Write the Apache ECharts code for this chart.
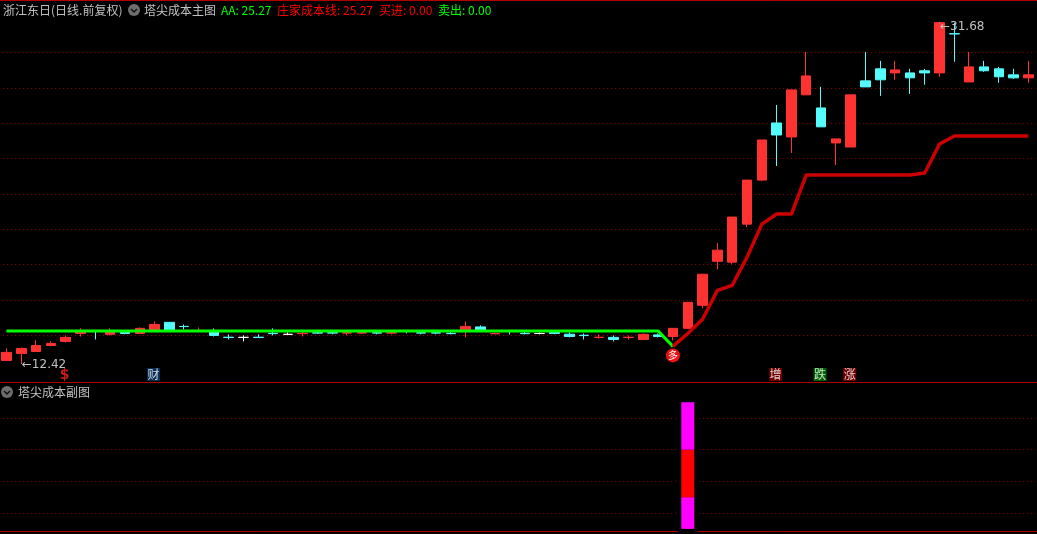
<!DOCTYPE html>
<html>
<head>
<meta charset="utf-8">
<style>
  html, body { margin: 0; padding: 0; background: #000; width: 1037px; height: 534px; overflow: hidden; }
  /* chart is a bit bigger than the window: the panels run past its left and bottom edges */
  #chart { width: 1038px; height: 546px; margin-left: -1px; }
</style>
<script src="https://cdn.jsdelivr.net/npm/echarts@6/dist/echarts.min.js"></script>
</head>
<body>
<div id="chart"></div>
<script>
var opens = [
  12.58,12.98,13.09,13.43,13.66,14.11,14.28,14.06,14.25,14.11,
  14.23,14.74,14.51,14.25,14.28,13.90,13.89,13.90,14.12,14.06,
  14.10,14.15,14.15,14.13,14.13,14.15,14.13,14.28,14.15,14.15,
  14.12,14.25,14.48,14.09,14.28,14.12,14.11,14.17,14.07,14.01,
  13.88,13.89,13.88,13.77,14.03,13.94,14.40,15.70,18.19,18.14,
  20.29,22.78,26.01,25.22,27.60,26.86,24.88,24.65,28.39,29.07,
  28.84,28.84,28.96,28.84,31.06,28.33,29.18,29.07,28.73,28.56
];
var closes = [
  13.04,13.26,13.43,13.55,13.89,14.23,14.25,14.23,14.11,14.40,
  14.62,14.28,14.50,14.28,14.00,13.88,13.89,13.88,14.10,14.06,
  14.12,14.13,14.13,14.15,14.15,14.13,14.15,14.26,14.13,14.13,
  14.10,14.51,14.28,14.11,14.26,14.10,14.11,14.11,13.94,13.99,
  13.90,13.77,13.90,14.06,13.94,14.40,15.87,17.46,18.82,20.69,
  22.78,25.05,25.33,27.88,28.67,25.79,25.11,27.60,28.05,28.45,
  29.01,28.56,28.84,31.68,31.04,29.18,28.96,28.62,28.56,28.73
];
var lows = [
  12.58,12.42,13.09,13.38,13.60,13.94,13.77,14.00,14.06,14.11,
  14.23,14.28,14.34,14.23,13.94,13.77,13.66,13.86,14.00,14.05,
  13.94,14.08,14.06,14.00,14.08,14.06,14.06,14.11,14.06,14.06,
  14.06,13.89,14.25,14.08,14.06,14.06,14.06,14.06,13.89,13.77,
  13.83,13.66,13.77,13.77,13.89,13.72,14.40,15.53,17.74,18.02,
  20.12,22.73,23.58,24.31,27.60,25.79,23.63,24.65,28.05,27.54,
  28.45,27.65,28.17,28.62,29.47,28.33,28.90,28.28,28.50,28.28
];
var highs = [
  13.26,13.32,13.72,13.66,14.00,14.40,14.28,14.40,14.28,14.45,
  14.79,14.74,14.62,14.45,14.40,14.06,14.00,14.06,14.40,14.17,
  14.28,14.28,14.28,14.28,14.28,14.28,14.28,14.30,14.28,14.28,
  14.28,14.79,14.57,14.17,14.28,14.23,14.17,14.20,14.17,14.11,
  14.06,14.00,14.00,14.11,14.11,14.40,15.87,17.46,19.21,20.69,
  22.78,25.05,27.03,27.88,30.03,28.05,25.11,27.60,30.03,29.52,
  29.52,29.07,29.07,31.68,31.68,30.03,29.52,29.18,29.07,29.52
];
// green AA line, index 0-45
var aaLine = [
  14.25,14.25,14.25,14.25,14.25,14.25,14.25,14.25,14.25,14.25,
  14.25,14.25,14.25,14.25,14.25,14.25,14.25,14.25,14.25,14.25,
  14.25,14.25,14.25,14.25,14.25,14.25,14.25,14.25,14.25,14.25,
  14.25,14.25,14.25,14.25,14.25,14.25,14.25,14.25,14.25,14.25,
  14.25,14.25,14.25,14.25,14.25,13.38
];
// red cost line, starts at index 45
var costStart = 45;
var costLine = [
  13.38,14.11,14.91,16.55,16.83,18.42,20.29,20.86,20.86,23.07,
  23.07,23.07,23.07,23.07,23.07,23.07,23.07,23.18,24.82,25.27,
  25.27,25.27,25.27,25.27,25.27
];
// sub chart column, index 46: bottom gap, magenta, red, magenta
var subIndex = 46;
var subBase = 10;
var subLow = 20;
var subMid = 30;
var subHigh = 30;
var priceTicks = { min: 12, max: 32, step: 2 };
var subTicks = { min: 0, max: 100, step: 20 };
// little signal boxes under the candles
var tagIndex = [10, 52, 55, 57];
var tagText = ['财', '增', '跌', '涨'];
var tagColor = ['#0a3a6a', '#8a0000', '#007a00', '#8a0000'];

var days = opens.map(function (v, i) { return String(i + 1); });
var candles = opens.map(function (v, i) { return [v, closes[i], lows[i], highs[i]]; });
var aaData = days.map(function (d, i) { return i < aaLine.length ? aaLine[i] : null; });
var costData = days.map(function (d, i) { return i >= costStart ? costLine[i - costStart] : null; });
function onlyAt(index, value) {
  return days.map(function (d, i) { return i === index ? value : null; });
}

var cjk = '"Noto Sans CJK SC", sans-serif';
var frame = '#b00000';
var dots = { color: '#990000', type: [1, 3], width: 1 };

var tagData = tagIndex.map(function (idx, i) {
  return {
    value: [idx, 0.5],
    itemStyle: { color: tagColor[i] },
    label: { formatter: tagText[i] }
  };
});
tagData.push({
  value: [4, 0.46],
  symbolSize: 1,
  itemStyle: { color: 'transparent' },
  label: { formatter: '$', color: '#ff2020', fontSize: 14, fontWeight: 'bold', fontFamily: '"DejaVu Sans", sans-serif' }
});

function note(index, value, text, dy) {
  return {
    coord: [index, value],
    symbol: 'circle',
    symbolSize: 1,
    itemStyle: { color: '#c0c0c0' },
    label: { show: true, position: 'right', distance: 0, offset: [0, dy], formatter: text, color: '#c0c0c0', fontSize: 12, fontFamily: '"DejaVu Sans", sans-serif' }
  };
}
function headText(x, y, text, color) {
  return { type: 'text', x: x + 1, y: y, style: { text: text, fill: color, font: '12px ' + cjk, textVerticalAlign: 'middle' } };
}
function icon(cx, cy) {
  return [
    { type: 'circle', shape: { cx: cx + 1, cy: cy, r: 6 }, style: { fill: '#6e6e6e' } },
    { type: 'polyline', shape: { points: [[cx - 2, cy - 1], [cx + 1, cy + 2], [cx + 4, cy - 1]] }, style: { stroke: '#111', lineWidth: 1.5, fill: 'none' } }
  ];
}
function rule(y) {
  return { type: 'line', shape: { x1: 0, y1: y, x2: 1038, y2: y }, style: { stroke: frame, lineWidth: 1 } };
}

var myChart = echarts.init(document.getElementById('chart'));
var option = {
  animation: false,
  backgroundColor: '#000',
  grid: [
    { left: 0.1, width: 1036.7, top: 17, height: 353.8 },
    { left: 0.1, width: 1036.7, top: 386.4, height: 158.3 },
    { left: 0.1, width: 1036.7, top: 360.5, height: 28 }
  ],
  xAxis: [
    { type: 'category', gridIndex: 0, data: days, show: false },
    { type: 'category', gridIndex: 1, data: days, show: false },
    { type: 'category', gridIndex: 1, data: days, show: false },
    { type: 'category', gridIndex: 2, data: days, show: false }
  ],
  yAxis: [
    {
      type: 'value', gridIndex: 0, min: priceTicks.min, max: priceTicks.max, interval: priceTicks.step,
      axisLine: { show: false }, axisTick: { show: false }, axisLabel: { show: false },
      splitLine: { show: true, showMinLine: false, showMaxLine: false, lineStyle: dots }
    },
    {
      type: 'value', gridIndex: 1, min: subTicks.min, max: subTicks.max, interval: subTicks.step,
      axisLine: { show: false }, axisTick: { show: false }, axisLabel: { show: false },
      splitLine: { show: true, showMinLine: false, showMaxLine: false, lineStyle: dots }
    },
    { type: 'value', gridIndex: 2, min: 0, max: 1, show: false, splitLine: { show: false } }
  ],
  series: [
    {
      type: 'candlestick',
      data: candles,
      barWidth: 10,
      itemStyle: {
        color: '#ff3232', color0: '#54fcfc',
        borderColor: '#ff3232', borderColor0: '#54fcfc', borderColorDoji: '#ffffff',
        borderWidth: 1
      }
    },
    {
      type: 'line',
      data: aaData,
      showSymbol: false,
      z: 4,
      lineStyle: { color: '#00ff00', width: 3 }
    },
    {
      type: 'line',
      data: costData,
      showSymbol: false,
      z: 5,
      lineStyle: { color: '#cc0000', width: 3.5 },
      markPoint: {
        animation: false,
        data: [
          {
            coord: [45, 12.87], symbol: 'circle', symbolSize: 14,
            itemStyle: { color: '#f01010' },
            label: { show: true, position: 'inside', formatter: '多', color: '#fff', fontSize: 10, fontFamily: cjk }
          },
          note(1, 12.42, '←12.42', 2),
          note(63, 31.68, '←31.68', 4)
        ]
      }
    },
    {
      type: 'scatter', xAxisIndex: 3, yAxisIndex: 2,
      data: tagData,
      symbol: 'rect',
      symbolSize: 13,
      symbolOffset: [-1, 0],
      label: { show: true, position: 'inside', color: '#fff', fontSize: 12, fontFamily: cjk }
    },
    {
      type: 'bar', xAxisIndex: 2, yAxisIndex: 1,
      data: onlyAt(subIndex, subTicks.max),
      barWidth: 19, z: 1, silent: true,
      itemStyle: { color: '#000' }
    },
    {
      type: 'bar', xAxisIndex: 1, yAxisIndex: 1, stack: 'sub',
      data: onlyAt(subIndex, subBase), barWidth: 13,
      itemStyle: { color: 'transparent' }
    },
    {
      type: 'bar', xAxisIndex: 1, yAxisIndex: 1, stack: 'sub',
      data: onlyAt(subIndex, subLow), barWidth: 13,
      itemStyle: { color: '#ff00ff' }
    },
    {
      type: 'bar', xAxisIndex: 1, yAxisIndex: 1, stack: 'sub',
      data: onlyAt(subIndex, subMid), barWidth: 13,
      itemStyle: { color: '#ff0000' }
    },
    {
      type: 'bar', xAxisIndex: 1, yAxisIndex: 1, stack: 'sub',
      data: onlyAt(subIndex, subHigh), barWidth: 13,
      itemStyle: { color: '#ff00ff' }
    }
  ],
  graphic: [
    rule(0.5), rule(382.5), rule(531.5),
    headText(3, 10, '浙江东日(日线.前复权)', '#c0c0c0'),
    headText(144, 10, '塔尖成本主图', '#c0c0c0'),
    headText(221, 10, 'AA: 25.27', '#00ff00'),
    headText(277, 10, '庄家成本线: 25.27', '#ff0000'),
    headText(379, 10, '买进: 0.00', '#ff0000'),
    headText(438, 10, '卖出: 0.00', '#00ff00'),
    headText(18, 392, '塔尖成本副图', '#c0c0c0')
  ].concat(icon(134, 10), icon(7, 392))
};
myChart.setOption(option);
</script>
</body>
</html>
